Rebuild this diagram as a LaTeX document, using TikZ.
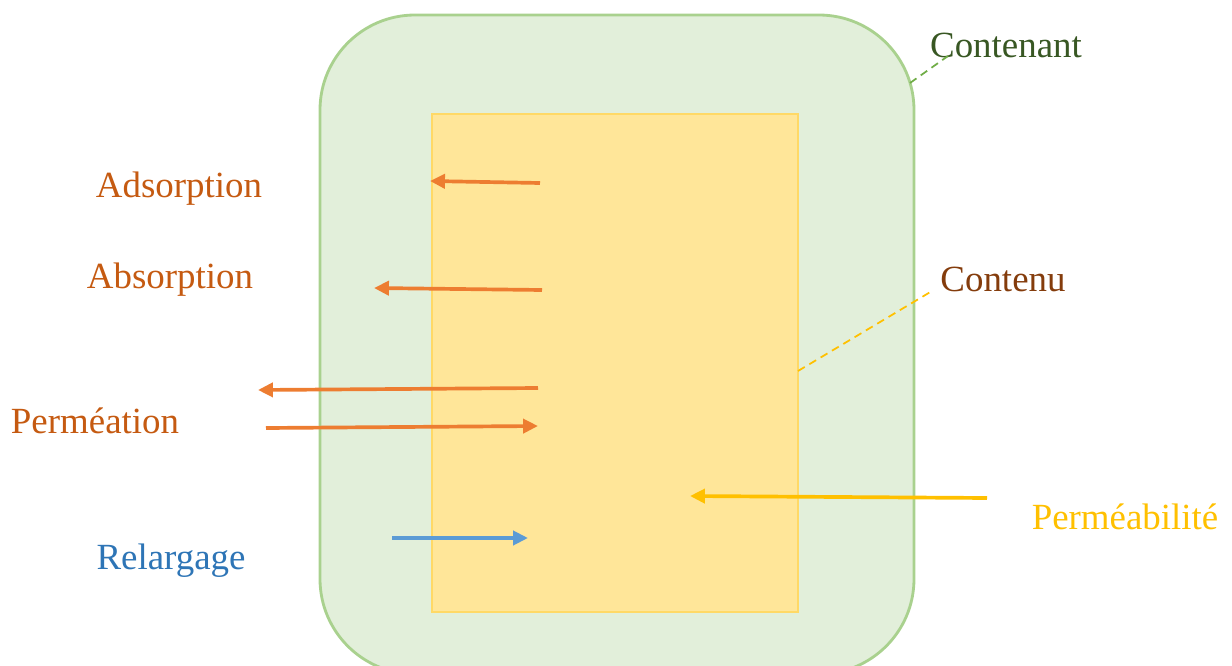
\documentclass[tikz,border=0pt]{standalone}
\usepackage{fontspec}
\setmainfont{Liberation Serif}
\usetikzlibrary{arrows.meta}
\definecolor{contfill}{HTML}{E2EFDA}
\definecolor{contline}{HTML}{A9D18E}
\definecolor{infill}{HTML}{FFE699}
\definecolor{inline}{HTML}{FFD966}
\definecolor{orarrow}{HTML}{ED7D31}
\definecolor{ortext}{HTML}{C55A11}
\definecolor{bluearrow}{HTML}{5B9BD5}
\definecolor{bluetext}{HTML}{2E75B6}
\definecolor{yel}{HTML}{FFC000}
\definecolor{dgreen}{HTML}{385723}
\definecolor{brown}{HTML}{843C0C}
\definecolor{dashgreen}{HTML}{70AD47}
\begin{document}
\begin{tikzpicture}[x=0.02cm,y=-0.02cm,
  lbl/.style={font=\fontsize{21}{25}\selectfont, inner sep=0pt},
  arr/.style={line width=2.1pt, -{Triangle[length=8.5pt,width=8pt]}},
  lead/.style={line width=1pt, dash pattern=on 4.5pt off 3pt}]
\useasboundingbox (0,0) rectangle (1232,666);
\begin{scope}
\clip (0,0) rectangle (1232,666);
\draw[fill=contfill, draw=contline, line width=1.6pt, rounded corners=95*0.02cm] (320,15) rectangle (914,674);
\end{scope}
\draw[fill=infill, draw=inline, line width=1.4pt] (432,114) rectangle (798,612);
\coordinate (cA) at (910,83);
\coordinate (cB) at (798,371);
% labels
\node[lbl, text=ortext] (adsorption) at (179,189) {Adsorption};
\node[lbl, text=ortext] (absorption) at (170,280) {Absorption};
\node[lbl, text=ortext] (permeation) at (95,421) {Perméation};
\node[lbl, text=bluetext] (relargage) at (171,561) {Relargage};
\node[lbl, text=dgreen] (contenant) at (1006,45) {Contenant};
\node[lbl, text=brown] (contenu) at (1003,279) {Contenu};
\node[lbl, text=yel] (permeabilite) at (1125,517) {Perméabilité};
% arrow endpoints
\coordinate (a1s) at (540,183); \coordinate (a1e) at (430,181);
\coordinate (a2s) at (542,290); \coordinate (a2e) at (374,288);
\coordinate (a3s) at (538,388); \coordinate (a3e) at (258,390);
\coordinate (a4s) at (266,428); \coordinate (a4e) at (538,426);
\coordinate (a5s) at (392,538); \coordinate (a5e) at (528,538);
\coordinate (a6s) at (987,498); \coordinate (a6e) at (690,496);
\draw[arr, orarrow] (a1s) -- (a1e);
\draw[arr, orarrow] (a2s) -- (a2e);
\draw[arr, orarrow] (a3s) -- (a3e);
\draw[arr, orarrow] (a4s) -- (a4e);
\draw[arr, bluearrow] (a5s) -- (a5e);
\draw[arr, yel] (a6s) -- (a6e);
% leader lines
\draw[lead, dashgreen] (cA) -- (948,56);
\draw[lead, yel] (cB) -- (932,291);
\end{tikzpicture}
\end{document}
